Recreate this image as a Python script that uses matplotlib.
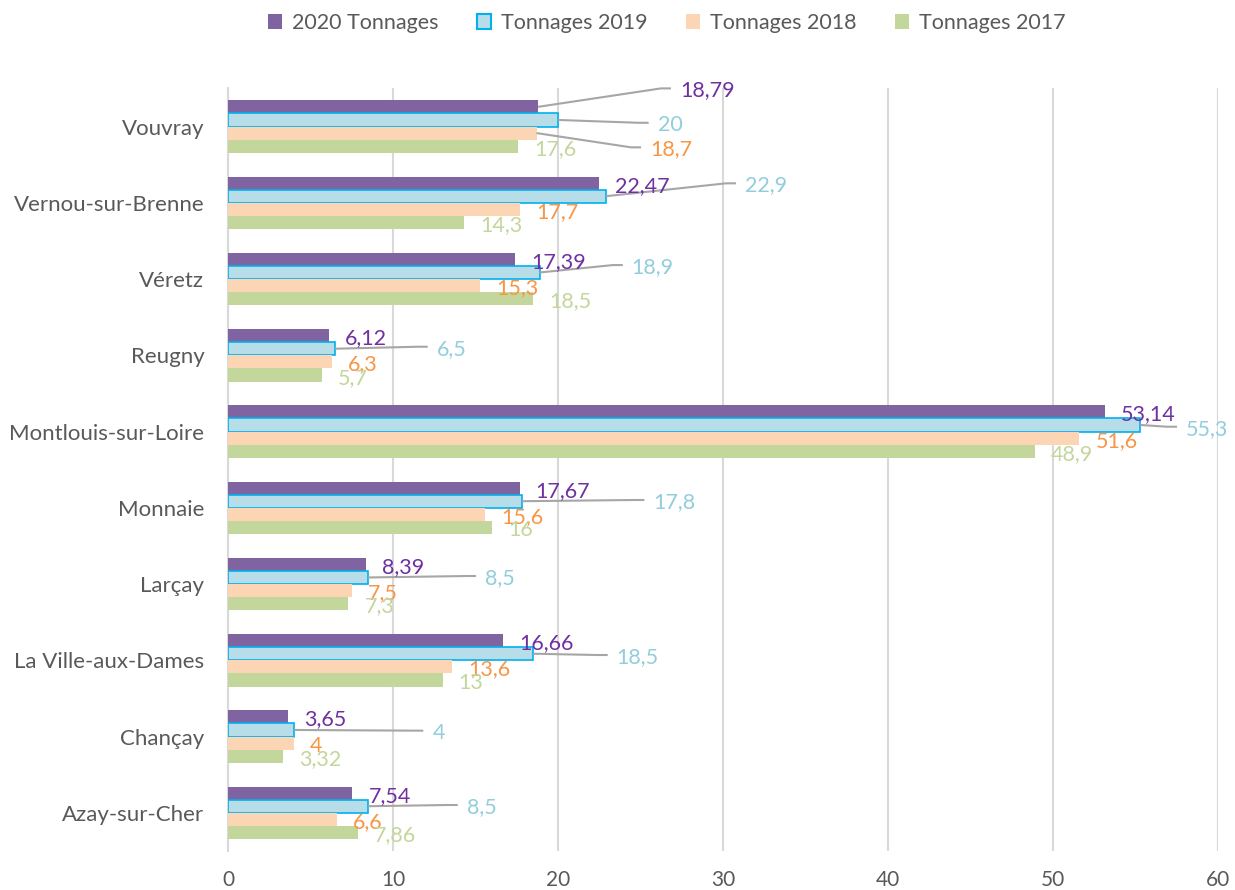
import matplotlib
matplotlib.use("Agg")
import matplotlib.pyplot as plt
from matplotlib.patches import Patch

# ---------------- data ----------------
communes = ["Azay-sur-Cher", "Chançay", "La Ville-aux-Dames", "Larçay", "Monnaie",
            "Montlouis-sur-Loire", "Reugny", "Véretz", "Vernou-sur-Brenne", "Vouvray"]
t2020 = [7.54, 3.65, 16.66, 8.39, 17.67, 53.14, 6.12, 17.39, 22.47, 18.79]
t2019 = [8.5, 4, 18.5, 8.5, 17.8, 55.3, 6.5, 18.9, 22.9, 20]
t2018 = [6.6, 4, 13.6, 7.5, 15.6, 51.6, 6.3, 15.3, 17.7, 18.7]
t2017 = [7.86, 3.32, 13, 7.3, 16, 48.9, 5.7, 18.5, 14.3, 17.6]
series_names = ["2020 Tonnages", "Tonnages 2019", "Tonnages 2018", "Tonnages 2017"]
xticks = [0, 10, 20, 30, 40, 50, 60]

# ---------------- layout / style ----------------
fills = ["#8064A2", "#B7DEE8", "#FCD5B5", "#C3D69B"]
edges = ["none", "#00B0F0", "none", "none"]
label_colors = ["#7030A0", "#92CDDC", "#F79646", "#C3D69B"]
bar_h = 0.172
offsets = [1.5 * bar_h, 0.5 * bar_h, -0.5 * bar_h, -1.5 * bar_h]

# moved labels (series index, category index) -> (label x, label y) in data coords
moved = {
    (1, 9): (26.04, 9.049), (1, 8): (31.33, 8.255), (1, 7): (24.47, 7.183),
    (1, 6): (12.65, 6.112), (1, 5): (58.06, 5.063), (1, 4): (25.78, 4.102),
    (1, 3): (15.58, 3.105), (1, 2): (23.56, 2.069), (1, 1): (12.38, 1.077),
    (1, 0): (14.47, 0.102),
    (0, 9): (27.39, 9.50), (2, 9): (25.58, 8.727),
}

FONT = "Lato"
plt.rcParams["font.family"] = [FONT, "DejaVu Sans"]

fig = plt.figure(figsize=(12.35, 8.90), dpi=100)
ax = fig.add_axes([228 / 1235, 1 - 850.9 / 890, (1218 - 228) / 1235, (850.9 - 88.4) / 890])

series = [t2020, t2019, t2018, t2017]
ypos = list(range(len(communes)))
px_per_unit = (1218 - 228) / 60.0

for s, vals in enumerate(series):
    yb = [y + offsets[s] for y in ypos]
    ax.barh(yb, vals, height=bar_h, color=fills[s],
            edgecolor=edges[s], linewidth=1.2 if edges[s] != "none" else 0, zorder=3)
    for i, v in enumerate(vals):
        txt = f"{v:g}".replace(".", ",")
        if (s, i) in moved:
            lx, ly = moved[(s, i)]
            bend = lx - 19 / px_per_unit
            end = lx - 9 / px_per_unit
            ax.plot([v, bend, end], [yb[i], ly, ly], color="#A6A6A6", lw=1.5,
                    zorder=4, clip_on=False, solid_capstyle="butt")
            ax.text(lx, ly, txt, color=label_colors[s], fontsize=15.5,
                    ha="left", va="center_baseline", zorder=5)
        else:
            ax.annotate(txt, xy=(v, yb[i]), xytext=(11.5, -0.5), textcoords="offset points",
                        color=label_colors[s], fontsize=15.5, ha="left",
                        va="center_baseline", zorder=5)

ax.set_xlim(0, 60)
ax.set_ylim(-0.5, len(communes) - 0.5)
ax.set_xticks(xticks)
ax.set_xticklabels([str(t) for t in xticks])
ax.set_yticks(ypos)
ax.set_yticklabels(communes)
ax.tick_params(axis="both", length=0, colors="#595959")
ax.tick_params(axis="y", pad=17, labelsize=16)
ax.tick_params(axis="x", pad=14, labelsize=15)
ax.grid(axis="x", color="#D9D9D9", linewidth=1.5, zorder=0)
for sp in ["top", "right", "bottom"]:
    ax.spines[sp].set_visible(False)
ax.spines["left"].set_color("#D9D9D9")
ax.spines["left"].set_linewidth(1.5)

handles = [Patch(facecolor=fills[s], edgecolor=edges[s] if edges[s] != "none" else fills[s],
                 linewidth=1.5 if edges[s] != "none" else 0) for s in range(4)]
leg = fig.legend(handles, series_names, loc="center", bbox_to_anchor=(667 / 1235, 1 - 23 / 890),
                 ncol=4, frameon=False, fontsize=15.5, handlelength=0.65, handleheight=0.65,
                 handletextpad=0.45, columnspacing=1.8)
for t in leg.get_texts():
    t.set_color("#595959")

fig.savefig("out.png", dpi=100)
